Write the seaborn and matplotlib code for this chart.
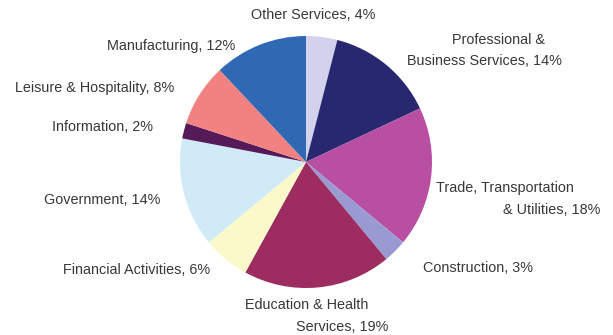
import matplotlib
matplotlib.use("Agg")
import matplotlib.pyplot as plt
import seaborn as sns

sectors = [
    "Other Services", "Professional & Business Services",
    "Trade, Transportation & Utilities", "Construction",
    "Education & Health Services", "Financial Activities",
    "Government", "Information", "Leisure & Hospitality", "Manufacturing",
]
shares = [4, 14, 18, 3, 19, 6, 14, 2, 8, 12]
colors = [
    "#d2d2ec", "#27286f", "#b84fa3", "#9a9ad2", "#9d2c61",
    "#fbf8c9", "#d0ebf6", "#571a58", "#f28282", "#2f69b3",
]

# label text lines per sector, centred at (x, y) in pixels from the top-left corner
label_lines = [
    [("Other Services, 4%", 313, 15)],
    [("Professional &", 498.5, 40), ("Business Services, 14%", 484, 61)],
    [("Trade, Transportation", 504.5, 188), ("& Utilities, 18%", 552, 210)],
    [("Construction, 3%", 478, 268)],
    [("Education & Health", 306.5, 305), ("Services, 19%", 342.5, 327)],
    [("Financial Activities, 6%", 137, 270)],
    [("Government, 14%", 102.5, 200)],
    [("Information, 2%", 102.5, 127)],
    [("Leisure & Hospitality, 8%", 95, 88)],
    [("Manufacturing, 12%", 171, 46)],
]

sns.set_theme(style="white")
plt.rcParams["font.family"] = ["Liberation Sans", "DejaVu Sans"]

W, H = 613, 335
fig = plt.figure(figsize=(W / 100, H / 100), dpi=100)
fig.patch.set_facecolor("white")

cx, cy, r = 306, 162, 126
ax = fig.add_axes([(cx - r) / W, (H - cy - r) / H, 2 * r / W, 2 * r / H])
ax.pie(shares, colors=colors, startangle=90, counterclock=False,
       radius=1.0, wedgeprops=dict(linewidth=0))
ax.set_xlim(-1, 1)
ax.set_ylim(-1, 1)
ax.set_aspect("auto")
ax.axis("off")

for lines in label_lines:
    for text, x, y in lines:
        fig.text(x / W, 1 - y / H, text, ha="center", va="center",
                 fontsize=10.4, color="#383838")

fig.savefig("out.png", dpi=100, facecolor="white")
